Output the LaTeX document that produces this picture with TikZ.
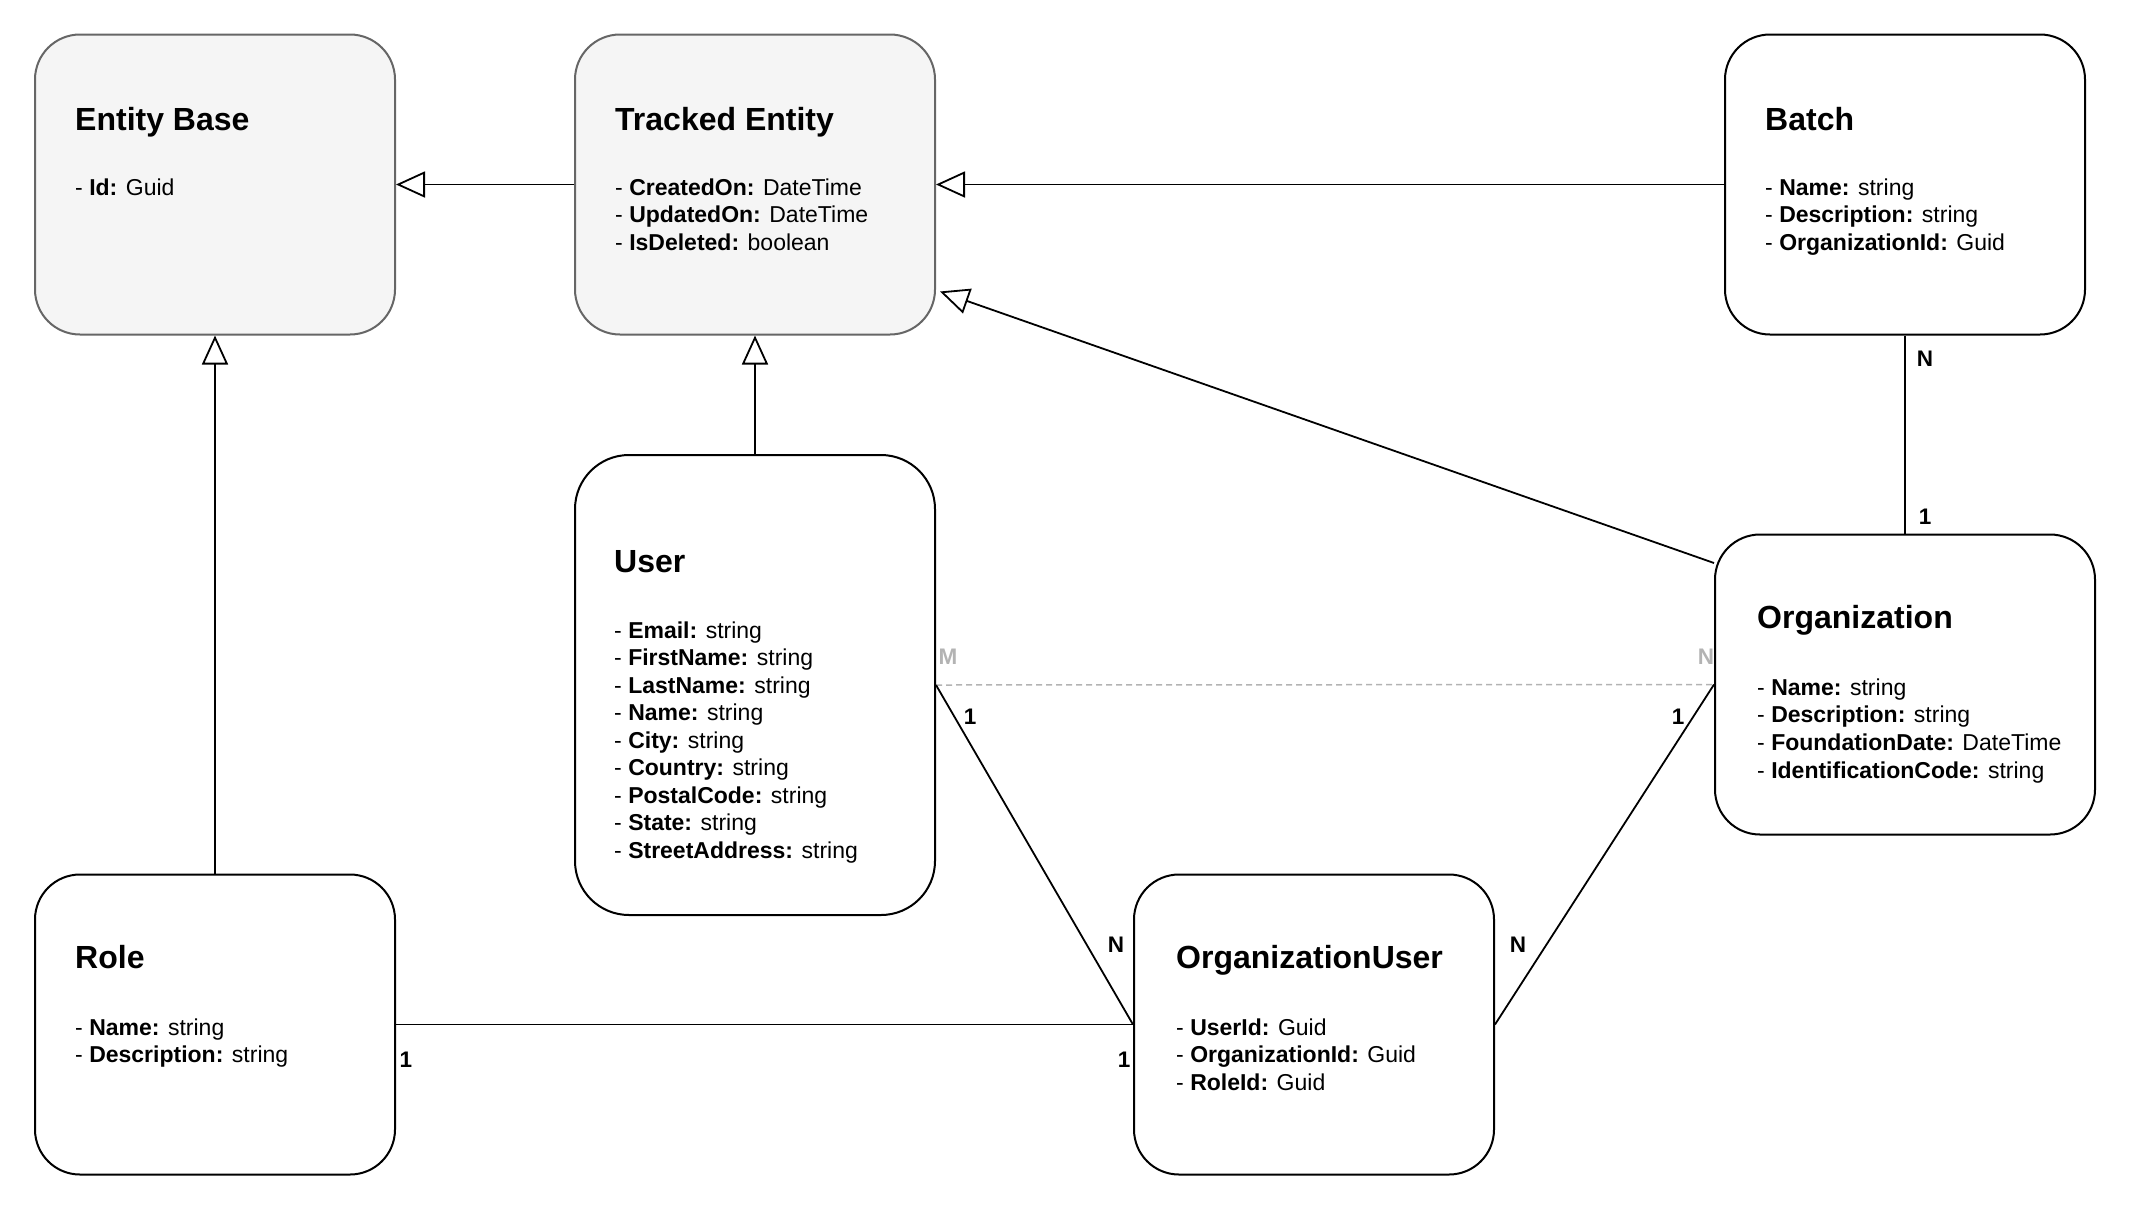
\documentclass[tikz,border=0pt]{standalone}
\usepackage{fontspec}
\setmainfont{Liberation Sans}
\usetikzlibrary{arrows.meta}
\definecolor{grayfill}{HTML}{F5F5F5}
\definecolor{graystroke}{HTML}{666666}
\definecolor{lbl}{HTML}{B3B3B3}
\begin{document}
\begin{tikzpicture}[x=1pt,y=-1pt,
  entbox/.style={draw=black, fill=white, line width=2pt, rounded corners=45pt, minimum width=360pt, minimum height=300pt, inner sep=0pt},
  basebox/.style={entbox, draw=graystroke, fill=grayfill},
  ttl/.style={anchor=base west, inner sep=0pt, font=\fontsize{32}{38}\selectfont\bfseries},
  attr/.style={anchor=base west, inner sep=0pt, font=\fontsize{23}{27}\selectfont},
  card/.style={inner sep=0pt, font=\fontsize{22.5}{26}\selectfont\bfseries},
  cardg/.style={card, text=lbl},
  conn/.style={line width=1.8pt, draw=black},
  inh/.style={conn, -{Triangle[open, length=29pt, width=26pt]}},
]
\useasboundingbox (0,0) rectangle (2142,1224);

% boxes
\node[basebox] (eb) at (215,184.5) {};
\node[basebox] (te) at (755,184.5) {};
\node[entbox] (batch) at (1905,184.5) {};
\node[entbox, minimum height=460pt, rounded corners=54pt] (user) at (755,685) {};
\node[entbox, minimum width=380pt] (org) at (1905,684.5) {};
\node[entbox] (role) at (215,1024.5) {};
\node[entbox] (ou) at (1314,1024.5) {};

% texts
\node[ttl] (eb-t) at (75,130) {Entity Base};
\node[attr] (eb-a0) at (75,195) {- \textbf{Id:} Guid};

\node[ttl] (te-t) at (615,130) {Tracked Entity};
\foreach \k/\v [count=\i from 0] in {CreatedOn/DateTime, UpdatedOn/DateTime, IsDeleted/boolean}
  \node[attr] (te-a\i) at (615,{195+27.8*\i}) {- \textbf{\k:} \v};

\node[ttl] (batch-t) at (1765,130) {Batch};
\foreach \k/\v [count=\i from 0] in {Name/string, Description/string, OrganizationId/Guid}
  \node[attr] (batch-a\i) at (1765,{195+27.8*\i}) {- \textbf{\k:} \v};

\node[ttl] (user-t) at (614,572) {User};
\foreach \k/\v [count=\i from 0] in {Email/string, FirstName/string, LastName/string, Name/string, City/string, Country/string, PostalCode/string, State/string, StreetAddress/string}
  \node[attr] (user-a\i) at (614,{638+27.5*\i}) {- \textbf{\k:} \v};

\node[ttl] (org-t) at (1757,628) {Organization};
\foreach \k/\v [count=\i from 0] in {Name/string, Description/string, FoundationDate/DateTime, IdentificationCode/string}
  \node[attr] (org-a\i) at (1757,{695+27.7*\i}) {- \textbf{\k:} \v};

\node[ttl] (role-t) at (75,968) {Role};
\foreach \k/\v [count=\i from 0] in {Name/string, Description/string}
  \node[attr] (role-a\i) at (75,{1035+27.7*\i}) {- \textbf{\k:} \v};

\node[ttl] (ou-t) at (1176,968) {OrganizationUser};
\foreach \k/\v [count=\i from 0] in {UserId/Guid, OrganizationId/Guid, RoleId/Guid}
  \node[attr] (ou-a\i) at (1176,{1035+27.7*\i}) {- \textbf{\k:} \v};

% inheritance connectors
\draw[inh] (te.west) -- (eb.east);
\draw[inh] (batch.west) -- (te.east);
\draw[inh] ([yshift=121.5pt]org.west) -- ([xshift=4pt,yshift=-107pt]te.east);
\draw[inh] (user.north) -- (te.south);
\draw[inh] (role.north) -- (eb.south);

% relations
\draw[conn] (batch.south) -- (org.north);
\draw[line width=1.5pt, draw=lbl, dash pattern=on 6pt off 4pt] (user.east) -- (org.west);
\draw[conn] (user.east) -- (ou.west);
\draw[conn] (org.west) -- (ou.east);
\draw[conn] (role.east) -- (ou.west);

% cardinality labels
\node[card] (c-bn) at (1925,359) {N};
\node[card] (c-b1) at (1925,517) {1};
\node[cardg] (c-um) at (948,657) {M};
\node[cardg] (c-on) at (1706,657) {N};
\node[card] (c-u1) at (970,717) {1};
\node[card] (c-o1) at (1678,717) {1};
\node[card] (c-oun1) at (1116,945) {N};
\node[card] (c-oun2) at (1518,945) {N};
\node[card] (c-r1) at (406,1060) {1};
\node[card] (c-ou1) at (1124,1060) {1};
\end{tikzpicture}
\end{document}
